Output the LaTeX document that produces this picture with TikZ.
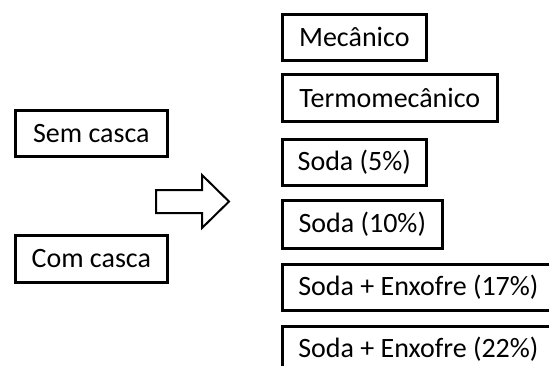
\documentclass[tikz,border=0pt]{standalone}
\usepackage{fontspec}
\setmainfont{Carlito}
\begin{document}
\begin{tikzpicture}[x=1pt,y=-1pt,
  box/.style={draw=black, line width=2.6pt, fill=white, anchor=north west, inner sep=0pt,
    font=\fontsize{28}{32}\selectfont, text=black}]
\useasboundingbox (0,0) rectangle (549,365);
\clip (0,0) rectangle (549,365);
% left boxes
\node[box, minimum width=152pt, minimum height=46pt] (sem) at (14,109) {Sem casca};
\node[box, minimum width=152pt, minimum height=47pt] (com) at (14,234) {Com casca};
% block arrow
\draw[line width=2pt, fill=white, line join=miter]
  (156,190) -- (202,190) -- (202,175) -- (229,201.5) -- (202,228) -- (202,213) -- (156,213) -- cycle;
% right boxes
\node[box, minimum width=144pt, minimum height=46pt] (mec) at (281,13) {Mecânico};
\node[box, minimum width=215pt, minimum height=47pt] (termo) at (281,73) {Termomecânico};
\node[box, minimum width=144pt, minimum height=46pt] (s5) at (281,138) {Soda (5\%)};
\node[box, minimum width=160pt, minimum height=48pt] (s10) at (281,199) {Soda (10\%)};
\node[box, minimum width=280pt, minimum height=46pt, text width=248pt, align=flush left] (s17) at (281,263) {Soda + Enxofre (17\%)};
\node[box, minimum width=280pt, minimum height=46pt, text width=248pt, align=flush left] (s22) at (281,325) {Soda + Enxofre (22\%)};
\end{tikzpicture}
\end{document}
